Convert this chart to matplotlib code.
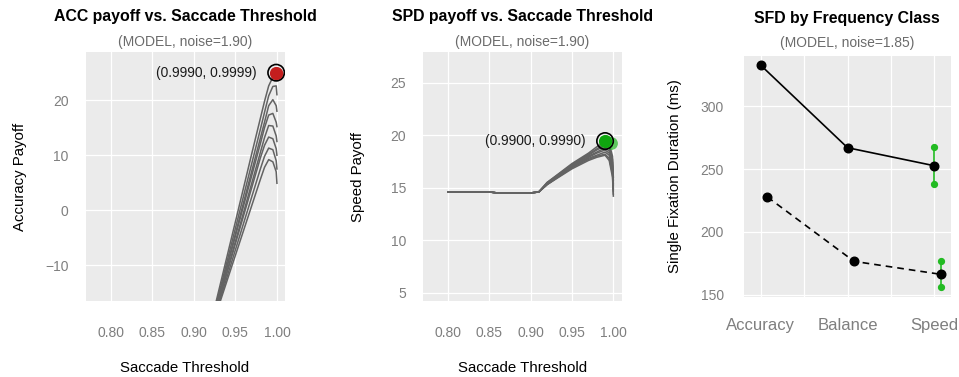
import matplotlib
matplotlib.use("Agg")
import matplotlib.pyplot as plt

plt.rcParams['font.family'] = ['Liberation Sans', 'DejaVu Sans']

W, H = 959, 377

# ---------------- data ----------------
# ACC payoff curves (8 curves), shared thresholds
acc_x = [0.80, 0.85, 0.90, 0.95, 0.97, 0.98, 0.985, 0.99, 0.995, 0.999, 0.9999]
acc_c1 = [-110, -72, -33.4, -2.1, 10.5, 16.7, 19.8, 22.6, 24.2, 25.0, 24.6]
acc_c2 = [-108, -71, -33.3, -3.3, 8.7, 14.7, 17.8, 20.8, 22.5, 22.6, 21.0]
acc_c3 = [-106, -70, -33.3, -4.3, 7.3, 13.1, 16.0, 19.0, 20.1, 19.0, 18.0]
acc_c4 = [-104, -69, -32.7, -4.7, 6.5, 12.1, 15.0, 17.3, 17.6, 16.0, 15.2]
acc_c5 = [-102, -68, -32.7, -5.7, 5.1, 10.5, 13.2, 15.4, 15.3, 13.5, 12.5]
acc_c6 = [-100, -67, -32.1, -6.1, 4.3, 9.5, 11.8, 13.3, 13.0, 11.2, 10.0]
acc_c7 = [-98, -66, -31.7, -7.2, 2.6, 7.5, 9.8, 11.3, 11.0, 9.0, 7.5]
acc_c8 = [-96, -65, -31.2, -8.2, 1.0, 5.6, 7.8, 9.2, 8.8, 7.0, 4.9]
acc_curves = [acc_c1, acc_c2, acc_c3, acc_c4, acc_c5, acc_c6, acc_c7, acc_c8]
acc_best_x = [0.999, 0.9999]
acc_best_y = [25.0, 24.8]
acc_label = "(0.9990, 0.9999)"

# SPD payoff curves (8 curves)
spd_x = [0.80, 0.85, 0.86, 0.90, 0.91, 0.92, 0.95, 0.97, 0.98, 0.99, 0.995, 0.999, 1.0]
spd_c1 = [14.6, 14.6, 14.5, 14.5, 14.6, 15.5, 17.3, 18.3, 18.9, 19.4, 19.2, 18.0, 16.0]
spd_c2 = [14.6, 14.6, 14.5, 14.5, 14.6, 15.5, 17.2, 18.2, 18.7, 19.2, 19.0, 17.7, 15.7]
spd_c3 = [14.6, 14.6, 14.5, 14.5, 14.6, 15.4, 17.2, 18.1, 18.6, 19.0, 18.8, 17.4, 15.4]
spd_c4 = [14.6, 14.6, 14.5, 14.5, 14.6, 15.4, 17.1, 18.0, 18.4, 18.8, 18.5, 17.1, 15.2]
spd_c5 = [14.6, 14.6, 14.5, 14.5, 14.6, 15.4, 17.0, 17.9, 18.3, 18.6, 18.3, 16.8, 14.9]
spd_c6 = [14.6, 14.6, 14.5, 14.5, 14.6, 15.3, 17.0, 17.8, 18.1, 18.4, 18.1, 16.6, 14.7]
spd_c7 = [14.6, 14.6, 14.5, 14.5, 14.6, 15.3, 16.9, 17.7, 18.0, 18.2, 17.8, 16.3, 14.4]
spd_c8 = [14.6, 14.6, 14.5, 14.5, 14.6, 15.3, 16.8, 17.6, 17.9, 18.1, 17.6, 16.0, 14.2]
spd_curves = [spd_c1, spd_c2, spd_c3, spd_c4, spd_c5, spd_c6, spd_c7, spd_c8]
spd_best_x = [0.99, 0.997]
spd_best_y = [19.45, 19.25]
spd_label = "(0.9900, 0.9990)"

# SFD by frequency class
sfd_classes = ["Accuracy", "Balance", "Speed"]
sfd_solid = [332.3, 266.9, 252.6]
sfd_dashed = [227.8, 176.7, 166.4]
sfd_solid_err = [238.3, 267.5]     # at Speed
sfd_dashed_err = [156.1, 177.0]    # at Speed
dodge = 0.075

# ---------------- style ----------------
PANEL_BG = "#EBEBEB"
TICK_C = "#7F7F7F"
SUB_C = "#6B6B6B"
LINE_C = "#636363"
RED = "#C41E1E"
GREEN = "#0FA50F"
GREENL = "#22B822"

fig = plt.figure(figsize=(W / 100, H / 100), dpi=100)


def fx(px):
    return px / W


def fy(py):
    return 1 - py / H


def add_panel(l, t, r, b):
    ax = fig.add_axes([fx(l), fy(b), fx(r) - fx(l), (b - t) / H])
    ax.set_facecolor(PANEL_BG)
    for s in ax.spines.values():
        s.set_visible(False)
    ax.grid(True, color="white", lw=0.9)
    ax.set_axisbelow(True)
    ax.tick_params(length=0, colors=TICK_C, labelsize=10)
    return ax


def titles(cx, title, sub, ty, sy):
    fig.text(fx(cx), fy(ty), title, ha="center", va="center", fontsize=11.4,
             fontweight="bold", color="black")
    fig.text(fx(cx), fy(sy), sub, ha="center", va="center", fontsize=10, color=SUB_C)


# ---- Panel 1: ACC ----
ax1 = add_panel(86, 52, 285, 301)
for c in acc_curves:
    ax1.plot(acc_x, c, color=LINE_C, lw=1.1, solid_joinstyle="round")
ax1.scatter(acc_best_x, acc_best_y, s=85, color=RED, alpha=0.6, zorder=4, lw=0)
ax1.scatter(acc_best_x[:1], acc_best_y[:1], s=140, facecolor="none",
            edgecolor="black", lw=1.2, zorder=5)
ax1.scatter(acc_best_x[:1], acc_best_y[:1], s=88, color=RED, zorder=6, lw=0)
ax1.annotate(acc_label, (acc_best_x[0], acc_best_y[0]), xytext=(-14, 0),
             textcoords="offset points", ha="right", va="center", fontsize=9.9,
             color="#1a1a1a")
ax1.set_xlim(0.7705, 1.0096)
ax1.set_ylim(-16.5, 28.76)
ax1.set_xticks([0.80, 0.85, 0.90, 0.95, 1.00])
ax1.set_xticklabels(["0.80", "0.85", "0.90", "0.95", "1.00"])
ax1.set_yticks([-10, 0, 10, 20])
ax1.set_yticklabels(["\u221210", "0", "10", "20"])
ax1.tick_params(axis="y", pad=12.5)
ax1.tick_params(axis="x", pad=18)
titles(185.5, "ACC payoff vs. Saccade Threshold", "(MODEL, noise=1.90)", 17, 41.7)
fig.text(fx(185), fy(368), "Saccade Threshold", ha="center", va="center", fontsize=10.8)
fig.text(fx(20), fy(176.5), "Accuracy Payoff", ha="center", va="center",
         fontsize=10.8, rotation=90)

# ---- Panel 2: SPD ----
ax2 = add_panel(422.7, 52, 621.7, 301)
for c in spd_curves:
    ax2.plot(spd_x, c, color=LINE_C, lw=1.1, solid_joinstyle="round")
ax2.scatter(spd_best_x, spd_best_y, s=85, color=GREENL, alpha=0.7, zorder=4, lw=0)
ax2.scatter(spd_best_x[:1], spd_best_y[:1], s=140, facecolor="none",
            edgecolor="black", lw=1.2, zorder=5)
ax2.scatter(spd_best_x[:1], spd_best_y[:1], s=88, color=GREEN, zorder=6, lw=0)
ax2.annotate(spd_label, (spd_best_x[0], spd_best_y[0]), xytext=(-14, 0),
             textcoords="offset points", ha="right", va="center", fontsize=9.9,
             color="#1a1a1a")
ax2.set_xlim(0.7697, 1.0101)
ax2.set_ylim(4.2, 27.94)
ax2.set_xticks([0.80, 0.85, 0.90, 0.95, 1.00])
ax2.set_xticklabels(["0.80", "0.85", "0.90", "0.95", "1.00"])
ax2.set_yticks([5, 10, 15, 20, 25])
ax2.tick_params(axis="y", pad=12)
ax2.tick_params(axis="x", pad=18)
titles(522.2, "SPD payoff vs. Saccade Threshold", "(MODEL, noise=1.90)", 17, 41.7)
fig.text(fx(522.5), fy(368), "Saccade Threshold", ha="center", va="center", fontsize=10.8)
fig.text(fx(358), fy(176.5), "Speed Payoff", ha="center", va="center",
         fontsize=10.8, rotation=90)

# ---- Panel 3: SFD ----
ax3 = add_panel(743.5, 56, 950.7, 297)
pos = list(range(1, len(sfd_classes) + 1))
pos_d = [p + dodge for p in pos]
ax3.plot(pos, sfd_solid, color="black", lw=1.2, marker="o", ms=6.2, zorder=4)
ax3.plot(pos_d, sfd_dashed, color="black", lw=1.2, ls=(0, (4, 3)), marker="o",
         ms=6.2, zorder=4)
ax3.plot([pos[-1]] * 2, sfd_solid_err, color="#22BB22", lw=1.2, marker="o", ms=4.2,
         zorder=3)
ax3.plot([pos_d[-1]] * 2, sfd_dashed_err, color="#22BB22", lw=1.2, marker="o", ms=4.2,
         zorder=3)
ax3.set_xlim(0.80, 3.19)
ax3.set_ylim(148.4, 339.7)
ax3.set_xticks(pos)
ax3.set_xticklabels(sfd_classes)
ax3.set_xticks([1.5, 2.5], minor=True)
ax3.grid(True, which="minor", axis="x", color="white", lw=0.9)
ax3.tick_params(which="minor", length=0)
ax3.set_yticks([150, 200, 250, 300])
ax3.tick_params(axis="y", pad=14)
ax3.tick_params(axis="x", pad=15, labelsize=12)
titles(847.1, "SFD by Frequency Class", "(MODEL, noise=1.85)", 18.3, 43.3)
fig.text(fx(675), fy(176.5), "Single Fixation Duration (ms)", ha="center",
         va="center", fontsize=10.8, rotation=90)

fig.savefig("out.png", dpi=100)
